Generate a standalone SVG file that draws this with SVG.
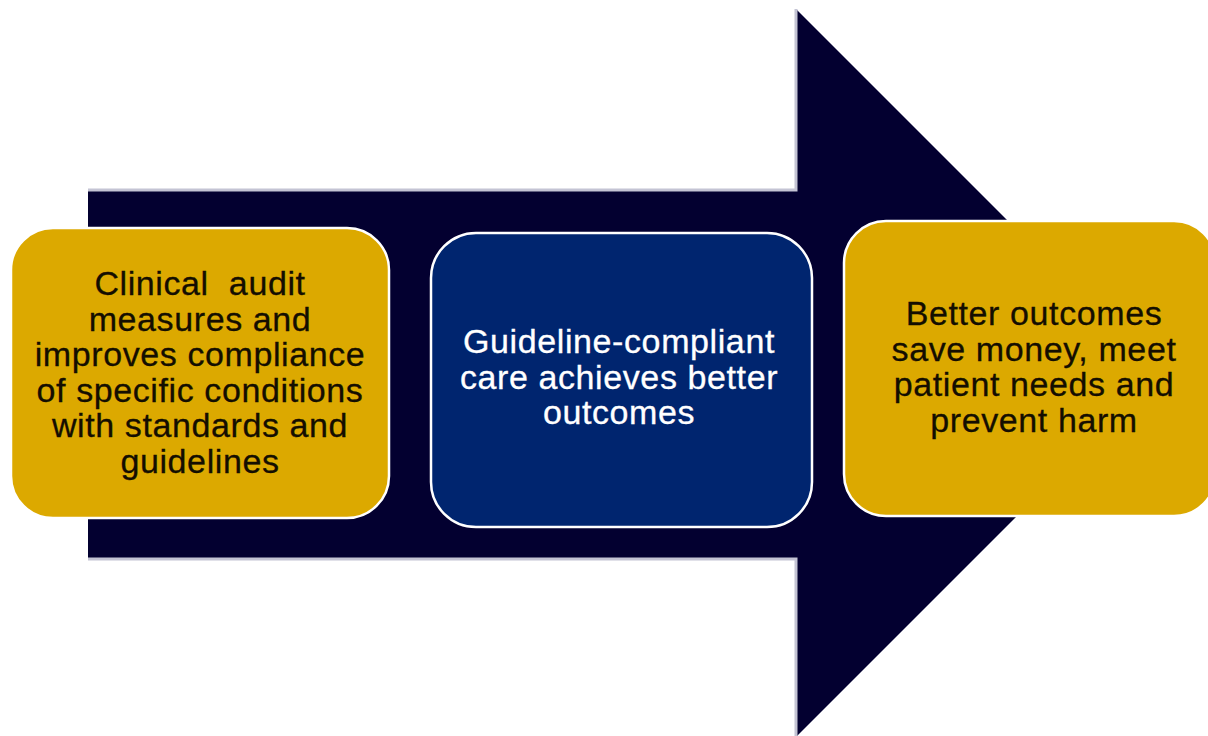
<svg xmlns="http://www.w3.org/2000/svg" width="1208" height="736" viewBox="0 0 1208 736">
<style>
.box{stroke:#ffffff;stroke-width:2.5}
.gold{fill:#DCA900}
.blue{fill:#00256F}
.t{font-family:"Liberation Sans",Arial,sans-serif;font-size:34px;text-anchor:middle;letter-spacing:0.6px}
.dk{fill:#140e00;stroke:#140e00;stroke-width:0.3}
.lt{fill:#ffffff;stroke:#ffffff;stroke-width:0.3}
</style>
<rect width="1208" height="736" fill="#ffffff"/>
<g id="arrow">
<polygon points="88,190 796,190 796,9 1160,373 796,737 796,559 88,559" fill="#030030"/>
<polyline points="88,190 796,190 796,9" fill="none" stroke="#c4c4d4" stroke-width="3"/>
<polyline points="88,559 796,559 796,737" fill="none" stroke="#c4c4d4" stroke-width="3"/>
</g>
<g id="node-audit">
<rect class="box gold" x="11" y="228" width="378" height="290" rx="42"/>
<text class="t dk" xml:space="preserve"><tspan x="200" y="295">Clinical  audit</tspan><tspan x="200" y="330.5">measures and</tspan><tspan x="200" y="366">improves compliance</tspan><tspan x="200" y="401.5">of specific conditions</tspan><tspan x="200" y="437">with standards and</tspan><tspan x="200" y="472.5">guidelines</tspan></text>
</g>
<g id="node-care">
<rect class="box blue" x="431" y="233" width="381" height="294" rx="45"/>
<text class="t lt"><tspan x="619" y="353">Guideline-compliant</tspan><tspan x="619" y="388.5">care achieves better</tspan><tspan x="619" y="424">outcomes</tspan></text>
</g>
<g id="node-outcomes">
<rect class="box gold" x="844" y="221" width="372" height="295" rx="42"/>
<text class="t dk"><tspan x="1034" y="325">Better outcomes</tspan><tspan x="1034" y="360.5">save money, meet</tspan><tspan x="1034" y="396">patient needs and</tspan><tspan x="1034" y="431.5">prevent harm</tspan></text>
</g>
<g id="connectors"></g>
</svg>
